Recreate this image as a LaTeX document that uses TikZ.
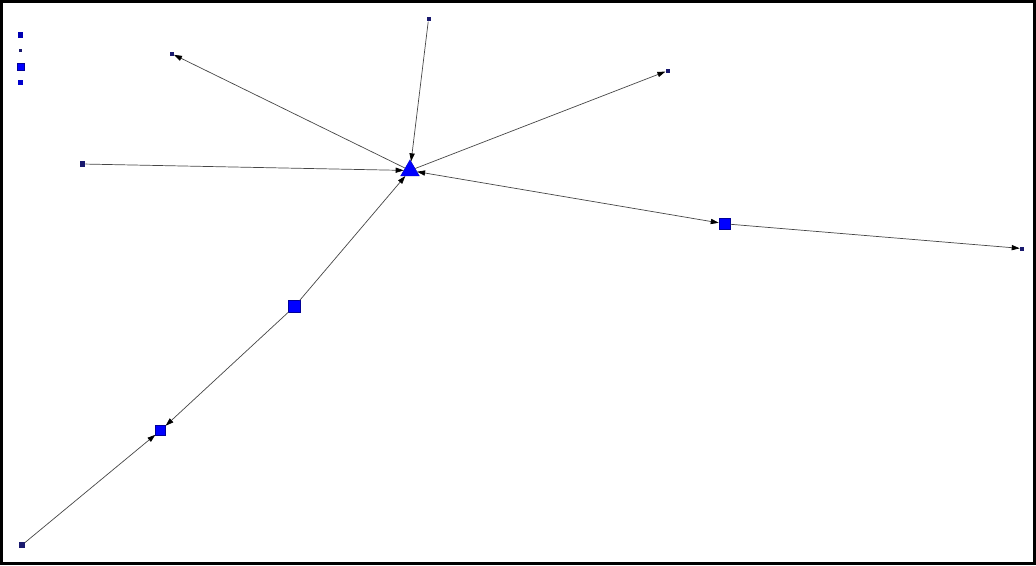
\documentclass[tikz,border=0pt]{standalone}
\usepackage{tikz}
\usetikzlibrary{arrows.meta, shapes.geometric}
\definecolor{NodeBlue}{RGB}{0,0,255}
\definecolor{NodeNavy}{RGB}{25,25,110}
\definecolor{EdgeGray}{RGB}{70,70,70}

\begin{document}
\begin{tikzpicture}[x=0.25mm, y=-0.25mm,
    hub/.style={regular polygon, regular polygon sides=3, fill=NodeBlue, draw=NodeBlue!70!black, line width=0.2pt, inner sep=0pt, minimum size=5.4mm},
    bigsq/.style={rectangle, fill=NodeBlue, draw=NodeBlue!60!black, line width=0.2pt, inner sep=0pt, minimum size=#1},
    bigsq/.default=2.9mm,
    endsq/.style={rectangle, fill=NodeNavy, inner sep=0pt, minimum size=#1},
    endsq/.default=1mm,
    link/.style={draw=EdgeGray, line width=0.5pt, -{Triangle[length=2mm, width=1.3mm, color=black]}},
    twolink/.style={draw=EdgeGray, line width=0.5pt, {Triangle[length=2mm, width=1.3mm, color=black]}-{Triangle[length=2mm, width=1.3mm, color=black]}}]
    \useasboundingbox (0,0) rectangle (1036,565);

    % Frame
    \draw[line width=0.65mm] (1.3,1.3) rectangle (1034.7,563.7);

    % Legend
    \node[endsq=1.3mm, fill=NodeBlue!70!black] (leg1) at (20.8,35) {};
    \node[endsq=0.8mm] (leg2) at (20.7,50.2) {};
    \node[bigsq=1.8mm] (leg3) at (20.8,66.5) {};
    \node[endsq=1.3mm, fill=NodeBlue!80!black] (leg4) at (20.8,82.5) {};

    % Nodes
    \node[hub] (hub) at (410,170.5) {};
    \node[endsq] (nw) at (171.7,53.7) {};
    \node[endsq] (top) at (428.5,19.3) {};
    \node[endsq] (ne) at (667.7,70.7) {};
    \node[endsq=1.3mm] (west) at (82.5,164) {};
    \node[bigsq] (east) at (724.7,223.8) {};
    \node[endsq] (fareast) at (1022,248.5) {};
    \node[bigsq=3mm] (mid) at (294.5,306.5) {};
    \node[bigsq=2.5mm] (low) at (160.5,430.5) {};
    \node[endsq=1.3mm] (corner) at (22,545) {};

    % Edges
    \draw[link] (hub) -- (nw);
    \draw[link] (top) -- (hub);
    \draw[link] (hub) -- (ne);
    \draw[link] (west) -- (hub);
    \draw[twolink] (hub) -- (east);
    \draw[link] (east) -- (fareast);
    \draw[link] (mid) -- (hub);
    \draw[link] (mid) -- (low);
    \draw[link] (corner) -- (low);
\end{tikzpicture}
\end{document}
